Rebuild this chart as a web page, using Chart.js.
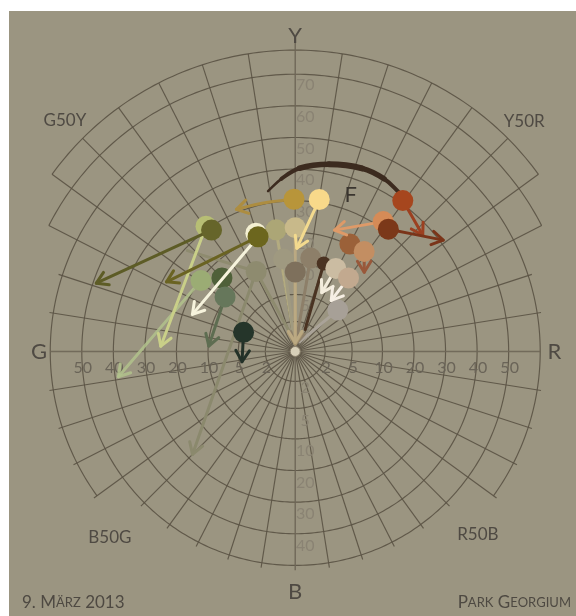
<!DOCTYPE html>
<html><head><meta charset="utf-8">
<script src="https://cdn.jsdelivr.net/npm/chart.js@4.4.1/dist/chart.umd.min.js"></script>
<style>html,body{margin:0;padding:0;background:#fff;}#wrap{width:576px;height:616px;position:relative;}</style>
</head><body><div id="wrap"><canvas id="c"></canvas></div>
<script>
// ---------- DATA ----------
// NCS hue scale: 0 = Y, 100 = R, 200 = B, 300 = G ; chroma in ring units
const ringValues = [2, 5, 10, 20, 30, 40, 50, 60, 70, 80];
const ringLabelsH = [2, 5, 10, 20, 30, 40, 50];
const ringLabelsUp = [2, 5, 10, 20, 30, 40, 50, 60, 70];
const ringLabelsDown = [2, 5, 10, 20, 30, 40];
const hueLabels = ['Y', 'Y50R', 'R', 'R50B', 'B', 'B50G', 'G', 'G50Y'];
const hueLabelHue = [0, 50, 100, 150, 200, 250, 300, 350];

// specimens (circles)
const dotHue    = [399.5, 10, 39.5, 38, 41.5, 361.5, 360.5, 380, 379.5, 390, 0, 371, 392, 10.5, 0, 30, 38.5, 29, 40, 341, 350, 342, 322.5, 51, 20];
const dotChroma = [30.5, 31, 41, 32, 31, 29, 31, 20.5, 21.8, 21.3, 21.5, 10.5, 11.8, 12.3, 8.7, 20.5, 20.8, 11.6, 11.1, 19.7, 15.2, 10.5, 4.8, 5.4, 11.6];
const dotColor  = ['#b8953a', '#f8d98a', '#a6461e', '#d58b57', '#7b3819', '#66652a', '#b7be74', '#6c661e', '#f4f0d2', '#aca676', '#c8b98a', '#8e8b6f', '#9f9980', '#8d7f69', '#7e705c', '#9b6139', '#c38e62', '#cbbca2', '#c2a98f', '#9bac74', '#4f6039', '#66775b', '#25352a', '#a7a097', '#4b3322'];

// arrows: start specimen -> (optional via) -> end
const arrowFrom     = [0, 1, 2, 4, 3, 5, 7, 7, 6, 19, 21, 22, 11, 16, 17, 18, 9, 10, 12, 13, 14, 11, 23, 24, 11];
const arrowViaHue   = [386, null, null, null, null, null, null, null, null, null, null, null, null, null, null, null, null, null, null, null, null, null, null, null, null];
const arrowViaChroma= [30.4, null, null, null, null, null, null, null, null, null, null, null, null, null, null, null, null, null, null, null, null, null, null, null, null];
const arrowToHue    = [375, 1, 53, 59, 20, 321, 331.5, 322, 302.5, 291, 304, 288, 250, 45.7, 27, 39.2, 398, 0, 396, 4, 0, 392, 27, 27.2, 347.8];
const arrowToChroma = [31, 15, 37, 41, 22.7, 49, 28.7, 17, 25, 39, 9.9, 4.7, 28.4, 15.6, 6.25, 5.9, 0.6, 0.6, 0.5, 0.5, 0.5, 0.8, 0.7, 1.6, 29.1];
const arrowHead     = [1, 1, 1, 1, 1, 1, 1, 1, 1, 1, 1, 1, 1, 1, 1, 1, 0, 1, 0, 1, 1, 0, 0, 0, 0];
const arrowColor    = ['#ad8d40', '#f3da8e', '#9c4020', '#7a3419', '#de9a68', '#5d5c26', '#6a6322', '#f6f3dc', '#c9cf88', 'rgba(178,194,140,0.85)', '#5e6d51', '#233128', '#8b896d', '#99583a', '#f3ecdc', '#f6efe4', '#b3ab80', '#bba982', '#a09a80', '#8d7f69', '#a8956f', '#8e8b6f', '#aaa398', '#4a3322', '#8e8b6f'];

// brush arc
const arcHue    = [389.3, 394.9, 1.5, 11.4, 22.3, 30.3, 37.1];
const arcChroma = [33.8, 37.1, 40.3, 42.5, 44, 43.8, 42.4];
const arcWidth  = [2.5, 4, 5.5, 6, 5.5, 4];

// ---------- AXIS (radial scale definition) ----------
const radialKnotC = [0, 2, 5, 10, 70, 80];
const radialKnotR = [0, 31, 59, 90.5, 287, 312];
const ringSpan = {60: [-36, 216], 70: [27, 153], 80: [36, 144]};
function R(c) {
  for (let i = 1; i < radialKnotC.length; i++) {
    if (c <= radialKnotC[i] || i === radialKnotC.length - 1) {
      const c0 = radialKnotC[i-1], c1 = radialKnotC[i], r0 = radialKnotR[i-1], r1 = radialKnotR[i];
      return r0 + (c - c0) / (c1 - c0) * (r1 - r0);
    }
  }
}
function hueAngle(h) { return 90 - h * 0.9; }
function polar(h, c) {
  const t = hueAngle(h) * Math.PI / 180, r = R(c);
  return {x: r * Math.cos(t), y: r * Math.sin(t)};
}

// ---------- LAYERS ----------
const layers = ['arc',
 'a24','a9','a12','a21','a16','a18','a22','a23','a19','a20','a17',
 'd11','d12','d13','d14','d9','d10','d23','d24',
 'a14','a15','d17','d18',
 'a13','d15','d16',
 'a0','d0','a1','d1',
 'a4','d3','a2','d2','a3','d4',
 'a10','d19','d20','d21',
 'a11','d22',
 'd6','a8','a5','d5',
 'd8','a6','a7','d7'];

const datasets = [];
layers.forEach((L, pos) => {
  const order = layers.length - pos;
  if (L === 'arc') {
    datasets.push({data: arcHue.map((h, i) => polar(h, arcChroma[i])), showLine: true, borderColor: '#3c2b1f',
      borderWidth: 5, pointRadius: 0, tension: 0.4, borderCapStyle: 'round',
      segment: {borderWidth: c => arcWidth[c.p0DataIndex]}, order});
  } else if (L[0] === 'a') {
    const i = +L.slice(1), s = arrowFrom[i];
    const pts = [polar(dotHue[s], dotChroma[s])];
    if (arrowViaHue[i] !== null) pts.push(polar(arrowViaHue[i], arrowViaChroma[i]));
    pts.push(polar(arrowToHue[i], arrowToChroma[i]));
    datasets.push({data: pts, showLine: true, borderColor: arrowColor[i], borderWidth: 3, pointRadius: 0,
      tension: 0.4, borderCapStyle: 'round', arrow: arrowHead[i] === 1, order});
  } else {
    const j = +L.slice(1);
    datasets.push({data: [polar(dotHue[j], dotChroma[j])], showLine: false, pointRadius: j === 24 ? 7 : 10.5,
      pointBackgroundColor: dotColor[j], pointBorderWidth: 0, order});
  }
});

const BG = '#9b9581', GRID = '#5a5244';
const labelPos = {hueR: [327, 336, 269, 268, 249, 272, 266, 338], fR: 172, fHue: 21.7};

function smallCaps(ctx, text, x, y, big, small, align) {
  const parts = [];
  for (const ch of text) {
    const low = ch !== ch.toUpperCase();
    parts.push({t: low ? ch.toUpperCase() : ch, s: low ? small : big});
  }
  let w = 0;
  parts.forEach(p => { ctx.font = p.s + 'px Lato'; p.w = ctx.measureText(p.t).width; w += p.w; });
  let cx = align === 'right' ? x - w : x;
  parts.forEach(p => { ctx.font = p.s + 'px Lato'; ctx.fillText(p.t, cx, y); cx += p.w; });
}

const gridPlugin = {
  id: 'ncsGrid',
  beforeDraw(chart) {
    const ctx = chart.ctx;
    ctx.save();
    ctx.fillStyle = '#ffffff'; ctx.fillRect(0, 0, chart.width, chart.height);
    ctx.fillStyle = BG; ctx.fillRect(9, 11, chart.width - 9, chart.height - 11);
    ctx.restore();
  },
  beforeDatasetsDraw(chart) {
    const ctx = chart.ctx, xs = chart.scales.x, ys = chart.scales.y;
    const P = (r, deg) => { const t = deg * Math.PI / 180; return [xs.getPixelForValue(r * Math.cos(t)), ys.getPixelForValue(r * Math.sin(t))]; };
    ctx.save();
    ctx.strokeStyle = GRID; ctx.lineWidth = 1.15; ctx.globalAlpha = 0.9;
    ringValues.forEach(v => {
      const sp = ringSpan[v] || [0, 360];
      ctx.beginPath();
      for (let a = sp[0]; a <= sp[1] + 1e-6; a += 1) {
        const p = P(R(v), a);
        if (a === sp[0]) ctx.moveTo(p[0], p[1]); else ctx.lineTo(p[0], p[1]);
      }
      ctx.stroke();
    });
    for (let k = 0; k < 40; k++) {
      let a = k * 9; if (a >= 270) a -= 360;
      let end = R(50) + 5;
      if (a >= ringSpan[60][0] - 0.1 && a <= ringSpan[60][1] + 0.1) end = R(60) + 4;
      if (a >= ringSpan[70][0] - 0.1 && a <= ringSpan[70][1] + 0.1) end = R(70);
      if (a >= ringSpan[80][0] - 0.1 && a <= ringSpan[80][1] + 0.1) end = R(80);
      const axis = (k % 10 === 0);
      if (axis) continue;
      const p0 = P(0, a), p1 = P(end, a);
      ctx.beginPath(); ctx.moveTo(p0[0], p0[1]); ctx.lineTo(p1[0], p1[1]); ctx.stroke();
    }
    // main axes
    ctx.strokeStyle = '#6e6656'; ctx.lineWidth = 1.5;
    [[0, R(60)], [90, R(80) + 8], [180, R(60)], [270, R(50) + 5]].forEach(([a, e]) => {
      const p0 = P(0, a), p1 = P(e, a);
      ctx.beginPath(); ctx.moveTo(p0[0], p0[1]); ctx.lineTo(p1[0], p1[1]); ctx.stroke();
    });
    ctx.globalAlpha = 1;
    // hub
    const c0 = P(0, 0);
    ctx.beginPath(); ctx.arc(c0[0], c0[1], 5, 0, Math.PI * 2);
    ctx.fillStyle = '#d7cfb8'; ctx.fill(); ctx.strokeStyle = '#8a806c'; ctx.lineWidth = 1; ctx.stroke();

    // ring labels
    ctx.textAlign = 'center'; ctx.textBaseline = 'middle';
    ctx.font = '16px Lato'; ctx.fillStyle = '#6a6458';
    ringLabelsH.forEach(v => {
      const pr = P(R(v), 0), pl = P(R(v), 180);
      ctx.fillText(String(v), pr[0] + 1, pr[1] + 16);
      ctx.fillText(String(v), pl[0] + 1, pl[1] + 16);
    });
    ctx.fillStyle = '#8a8373';
    ringLabelsUp.forEach(v => { const p = P(R(v), 90); ctx.fillText(String(v), p[0] + 10, p[1] + 11); });
    ringLabelsDown.forEach(v => { const p = P(R(v), 270); ctx.fillText(String(v), p[0] + 10, p[1] + (v === 2 ? 6 : 12)); });

    // hue labels
    ctx.fillStyle = '#4f4a43';
    hueLabels.forEach((t, i) => {
      ctx.font = (t.length === 1 ? 22 : 17) + 'px Lato';
      const p = P(labelPos.hueR[i], hueAngle(hueLabelHue[i]));
      ctx.fillText(t, p[0], p[1]);
    });
    ctx.restore();
  },
  afterDatasetsDraw(chart) {
    const ctx = chart.ctx, xs = chart.scales.x, ys = chart.scales.y;
    ctx.save();
    ctx.fillStyle = '#3a352f'; ctx.textAlign = 'center'; ctx.textBaseline = 'middle';
    ctx.font = '22px Lato';
    const t = hueAngle(labelPos.fHue) * Math.PI / 180;
    ctx.fillText('F', xs.getPixelForValue(labelPos.fR * Math.cos(t)), ys.getPixelForValue(labelPos.fR * Math.sin(t)));
    ctx.fillStyle = '#4e4942'; ctx.textAlign = 'left';
    smallCaps(ctx, '9. März 2013', 22, 603, 17, 13, 'left');
    smallCaps(ctx, 'Park Georgium', 571, 603, 17, 13, 'right');
    ctx.restore();
  },
  afterDatasetDraw(chart, args) {
    const ds = chart.data.datasets[args.index];
    if (!ds.arrow) return;
    const pts = args.meta.data, n = pts.length;
    const a = pts[n - 2], b = pts[n - 1];
    const ang = Math.atan2(b.y - a.y, b.x - a.x), L = 13, w = 0.55;
    const ctx = chart.ctx;
    ctx.save();
    ctx.strokeStyle = ds.borderColor; ctx.lineWidth = 3; ctx.lineCap = 'round'; ctx.lineJoin = 'round';
    ctx.beginPath();
    ctx.moveTo(b.x - L * Math.cos(ang - w), b.y - L * Math.sin(ang - w));
    ctx.lineTo(b.x, b.y);
    ctx.lineTo(b.x - L * Math.cos(ang + w), b.y - L * Math.sin(ang + w));
    ctx.stroke();
    ctx.restore();
  }
};

new Chart(document.getElementById('c'), {
  type: 'scatter',
  data: {datasets},
  options: {
    responsive: true, maintainAspectRatio: false, animation: false, events: [],
    devicePixelRatio: 1,
    layout: {padding: 0},
    scales: {
      x: {type: 'linear', min: -295.5, max: 280.5, display: false},
      y: {type: 'linear', min: -263, max: 353, display: false}
    },
    plugins: {legend: {display: false}, tooltip: {enabled: false}}
  },
  plugins: [gridPlugin]
});
</script></body></html>
